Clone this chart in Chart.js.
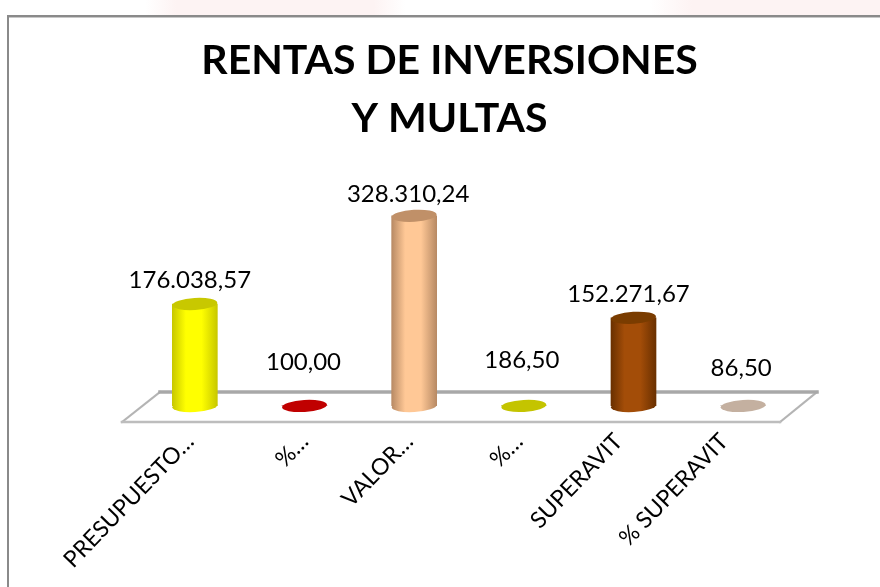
<!DOCTYPE html>
<html><head><meta charset="utf-8">
<style>html,body{margin:0;padding:0;background:#fff}canvas{display:block}</style>
<script src="https://cdn.jsdelivr.net/npm/chart.js@4"></script></head>
<body><div style="width:880px;height:587px;position:relative"><canvas id="c"></canvas></div>
<script>
const categories=["PRESUPUESTO…","%…","VALOR…","%…","SUPERAVIT","% SUPERAVIT"];
const values=[176038.57,100.00,328310.24,186.50,152271.67,86.50];
const valueLabels=["176.038,57","100,00","328.310,24","186,50","152.271,67","86,50"];
const bodyColors=["#ffff00","#e00000","#ffc896","#e0e000","#a34d08","#dcc8b8"];
const edgeColors=["#c8c800","#a80000","#b88a64","#a8a800","#6a3000","#a89888"];
const capColors=["#c8c800","#c00000","#c09068","#c4c400","#7a3c00","#c4b0a0"];
const labelLift=[24,44,22,46,24,38];
const labelShiftX=[-5,-1,-6,-2,-5,-2];
const tickShift=[-5,0,-5,-5,-15,-19];
const FONT="Lato, Carlito, sans-serif";

function ell(ctx,x,y,rx,ry,fill){ctx.save();ctx.fillStyle=fill;ctx.beginPath();ctx.ellipse(x,y,rx,ry,-0.06,0,Math.PI*2);ctx.fill();ctx.restore();}
function grad(ctx,x,i){const g=ctx.createLinearGradient(x-22.5,0,x+22.5,0);g.addColorStop(0,edgeColors[i]);g.addColorStop(0.3,bodyColors[i]);g.addColorStop(0.65,bodyColors[i]);g.addColorStop(1,edgeColors[i]);return g;}
function glow(x,a,b){const g=x.createLinearGradient(a,0,b,0);g.addColorStop(0,'#ffffff');g.addColorStop(0.12,'#fdf3f3');g.addColorStop(0.88,'#fdf3f3');g.addColorStop(1,'#ffffff');return g;}

const deco={id:'deco',
 beforeDraw(c){const x=c.ctx;x.save();x.fillStyle='#fff';x.fillRect(0,0,880,587);
  x.fillStyle=glow(x,145,405);x.fillRect(145,0,260,15);x.fillStyle=glow(x,650,1000);x.fillRect(650,0,230,15);
  x.fillStyle='#8a8a8a';x.fillRect(7,15,873,2);x.fillRect(7,15,2,572);x.fillStyle='#c8c8c8';x.fillRect(9,17,871,1);x.restore();},
 beforeDatasetsDraw(c){const x=c.ctx,a=c.chartArea,b=a.bottom;x.save();x.lineCap='square';
  x.strokeStyle='#b4b4b4';x.lineWidth=2;x.beginPath();x.moveTo(a.left-18,b+16);x.lineTo(a.left+20,b-14);x.stroke();x.beginPath();x.moveTo(a.right-18,b+16);x.lineTo(a.right+19,b-14);x.stroke();
  x.strokeStyle='#a8a8a8';x.lineWidth=3.5;x.beginPath();x.moveTo(a.left+20,b-14);x.lineTo(a.right+19,b-14);x.stroke();
  x.strokeStyle='#bdbdbd';x.lineWidth=2.5;x.beginPath();x.moveTo(a.left-18,b+16);x.lineTo(a.right-18,b+16);x.stroke();x.restore();
  c.getDatasetMeta(0).data.forEach((e,i)=>{if(values[i]>1000)ell(x,e.x,e.base,22.5,6,grad(x,e.x,i));});},
 afterDatasetsDraw(c){const x=c.ctx;c.getDatasetMeta(0).data.forEach((e,i)=>{ell(x,e.x,e.y,22.5,6,capColors[i]);
   x.save();x.font='24px '+FONT;x.fillStyle='#000';x.textAlign='center';x.textBaseline='middle';
   x.fillText(valueLabels[i],e.x+labelShiftX[i],e.y-labelLift[i]);x.restore();});},
 afterUpdate(c){c.scales.x.getLabelItems().forEach((it,i)=>{it.options.translation[0]+=tickShift[i];});}
};

new Chart(document.getElementById('c'),{type:'bar',
 data:{labels:categories,datasets:[{data:values,barThickness:45,borderWidth:0,
  backgroundColor:(ctx)=>{const s=ctx.chart.scales.x;const px=s&&ctx.dataIndex!==undefined?s.getPixelForValue(ctx.dataIndex):NaN;return Number.isFinite(px)?grad(ctx.chart.ctx,px,ctx.dataIndex):bodyColors[ctx.dataIndex||0];}}]},
 plugins:[deco],
 options:{responsive:true,maintainAspectRatio:false,animation:false,
  layout:{autoPadding:false,padding:{left:101,right:82,top:0,bottom:0}},
  plugins:{legend:{display:false},tooltip:{enabled:false},
   title:{display:true,text:["RENTAS DE INVERSIONES","Y MULTAS"],color:'#000',font:{family:FONT,size:41,weight:'bold',lineHeight:1.415},padding:{top:32,bottom:61}}},
  scales:{
   y:{min:0,max:340000,grid:{display:false},border:{display:false},ticks:{display:false},afterFit(s){s.width=39;}},
   x:{grid:{display:false},border:{display:false},
      ticks:{color:'#000',font:{family:FONT,size:23},minRotation:46,maxRotation:46,autoSkip:false,padding:14},
      afterFit(s){s.height=181;}}
  }}});
</script></body></html>
